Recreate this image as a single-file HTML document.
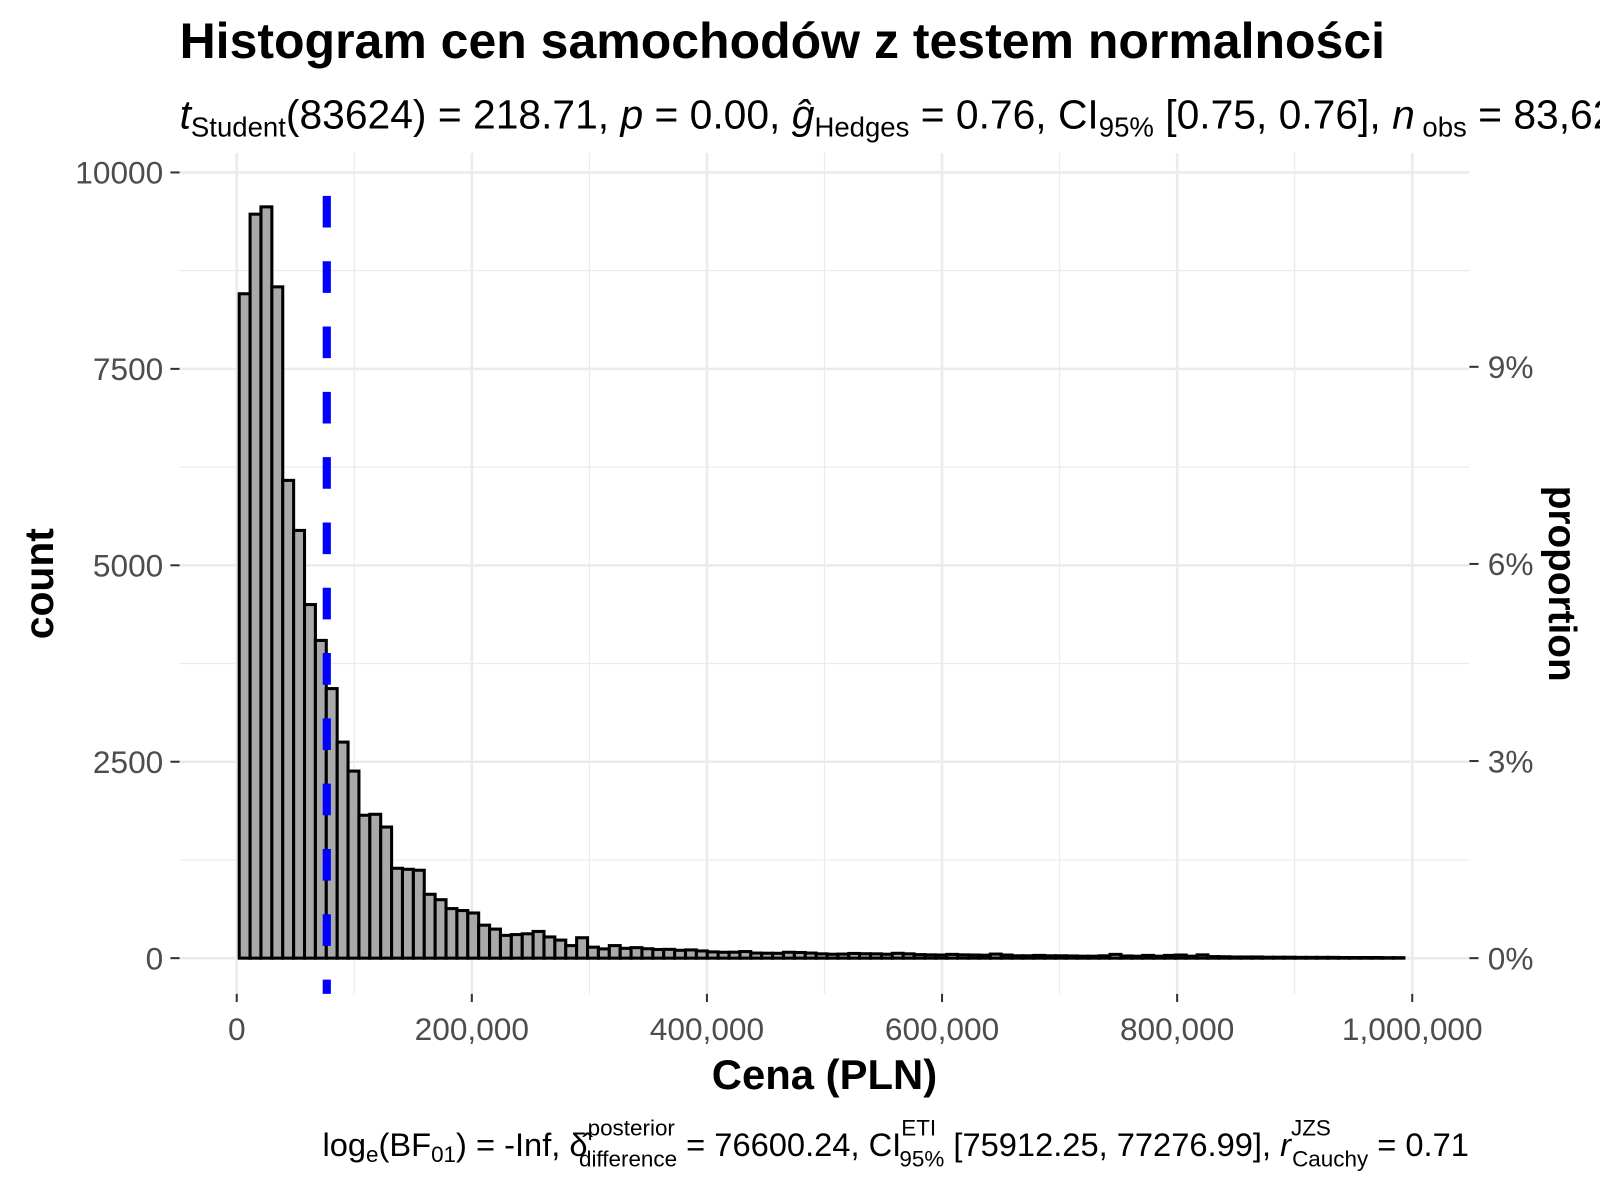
<!DOCTYPE html>
<html><head><meta charset="utf-8"><style>
html,body{margin:0;padding:0;background:#fff;overflow:hidden}
svg{display:block;font-family:"Liberation Sans",sans-serif}
</style></head><body>
<svg id="chart" width="1600" height="1200" viewBox="0 0 1600 1200">
<g transform="scale(1.020408)">
<text x="176" y="57" font-size="49" font-weight="bold" fill="#000">Histogram cen samochodów z testem normalności</text>
<text x="176" y="126" font-size="40" fill="#000"><tspan font-style="italic">t</tspan><tspan font-size="27" dy="8">Student</tspan><tspan dy="-8">(83624)  =  218.71, </tspan><tspan font-style="italic">p</tspan><tspan>  =  0.00, </tspan><tspan font-style="italic">ĝ</tspan><tspan font-size="27" dy="8">Hedges</tspan><tspan dy="-8">  =  0.76, CI</tspan><tspan font-size="27" dy="8">95%</tspan><tspan dy="-8"> [0.75, 0.76], </tspan><tspan font-style="italic">n</tspan><tspan font-size="27" dy="8"> obs</tspan><tspan dy="-8">  =  83,624</tspan></text>
<g id="grid"></g>
<g id="bars"></g>
<g id="axes"></g>
<text transform="translate(52,572) rotate(-90)" text-anchor="middle" font-size="40" font-weight="bold">count</text>
<text transform="translate(1518,572) rotate(90)" text-anchor="middle" font-size="38" font-weight="bold">proportion</text>
<text x="808" y="1067" text-anchor="middle" font-size="41" font-weight="bold">Cena (PLN)</text>
<text x="316" y="1133" font-size="32" fill="#000">log<tspan font-size="22" dy="6">e</tspan><tspan dy="-6">(BF</tspan><tspan font-size="22" dy="6">01</tspan><tspan dy="-6">) = -Inf, δ̂</tspan><tspan font-size="22" dy="-20">posterior</tspan><tspan font-size="22" dx="-94" dy="30">difference</tspan><tspan dy="-10"> = 76600.24, CI</tspan><tspan font-size="22" dy="-20">ETI</tspan><tspan font-size="22" dx="-36" dy="30">95%</tspan><tspan dy="-10"> [75912.25, 77276.99], </tspan><tspan font-style="italic">r</tspan><tspan font-size="22" dy="-20">JZS</tspan><tspan font-size="22" dx="-38" dy="30">Cauchy</tspan><tspan dy="-10"> = 0.71</tspan></text>
</g>
</svg>
<script>
const counts = [8456,9469,9562,8544,6081,5444,4500,4044,3431,2750,2381,1819,1831,1669,1144,1131,1119,813,744,631,606,575,
420,370,290,300,310,340,270,230,160,260,140,118,160,125,134,120,110,112,100,105,92,80,75,76,84,65,63,62,75,72,65,55,50,52,60,56,55,50,62,55,45,42,40,48,42,40,38,52,40,30,30,35,30,30,28,25,25,30,48,28,25,35,25,35,40,25,42,20,18,15,15,15,12,12,12,10,10,10,10,8,8,8,8,6,6];
const binStart = 2100;
const binWidth = 9260;
const meanValue = 76600.24;
const nObs = 83624;
const xTicks = [0,200000,400000,600000,800000,1000000];
const xTickLabels = ["0","200,000","400,000","600,000","800,000","1,000,000"];
const yTicks = [0,2500,5000,7500,10000];
const yTickLabels = ["0","2500","5000","7500","10000"];
const propTicks = [0,0.03,0.06,0.09];
const propTickLabels = ["0%","3%","6%","9%"];

const NS="http://www.w3.org/2000/svg";
const X0=232,X1=1384,PL=176,PR=1440,PT=150,PB=974;
const xs=v=>X0+(v/1e6)*(X1-X0);
const ys=v=>939-(v/10000)*770;
function mk(tag,attrs,parent){const e=document.createElementNS(NS,tag);for(const k in attrs)e.setAttribute(k,attrs[k]);parent.appendChild(e);return e;}
const grid=document.getElementById('grid'),bars=document.getElementById('bars'),axes=document.getElementById('axes');
for(let i=0;i<xTicks.length-1;i++){const m=(xTicks[i]+xTicks[i+1])/2;const l=mk('line',{x1:xs(m),x2:xs(m),y1:PT,y2:PB,stroke:'#ebebeb','stroke-width':1.2},grid);

}
for(let i=0;i<yTicks.length-1;i++){const m=(yTicks[i]+yTicks[i+1])/2;const l=mk('line',{x1:PL,x2:PR,y1:ys(m),y2:ys(m),stroke:'#ebebeb','stroke-width':1.2},grid);

}
xTicks.forEach((t,i)=>{const l=mk('line',{x1:xs(t),x2:xs(t),y1:PT,y2:PB,stroke:'#ebebeb','stroke-width':2.5},grid);


const tk=mk('line',{x1:xs(t),x2:xs(t),y1:PB,y2:PB+8,stroke:'#333','stroke-width':2},axes);


const tx=mk('text',{x:xs(t),y:1019,'text-anchor':'middle','font-size':31,fill:'#4d4d4d'},axes);tx.textContent=xTickLabels[i];

});
yTicks.forEach((t,i)=>{const l=mk('line',{x1:PL,x2:PR,y1:ys(t),y2:ys(t),stroke:'#ebebeb','stroke-width':2.5},grid);


const tk=mk('line',{x1:PL-9,x2:PL,y1:ys(t),y2:ys(t),stroke:'#333','stroke-width':2},axes);


const tx=mk('text',{x:PL-16,y:ys(t)+11,'text-anchor':'end','font-size':31,fill:'#4d4d4d'},axes);tx.textContent=yTickLabels[i];

});
propTicks.forEach((p,i)=>{const y=ys(p*nObs);
const tk=mk('line',{x1:PR,x2:PR+9,y1:y,y2:y,stroke:'#333','stroke-width':2},axes);


const tx=mk('text',{x:PR+18,y:y+11,'font-size':31,fill:'#4d4d4d'},axes);tx.textContent=propTickLabels[i];

});
counts.forEach((c,i)=>{const a=binStart+i*binWidth;const x=xs(a),w=xs(a+binWidth)-x;
const r=mk('rect',{x:x,y:ys(c),width:w,height:939-ys(c),fill:'#a9a9a9',stroke:'#000','stroke-width':3},bars);

});
const ml=mk('line',{x1:xs(meanValue),x2:xs(meanValue),y1:192,y2:PB,stroke:'#0000ff','stroke-width':8,'stroke-dasharray':'31 33'},bars);


</script>
</body></html>
